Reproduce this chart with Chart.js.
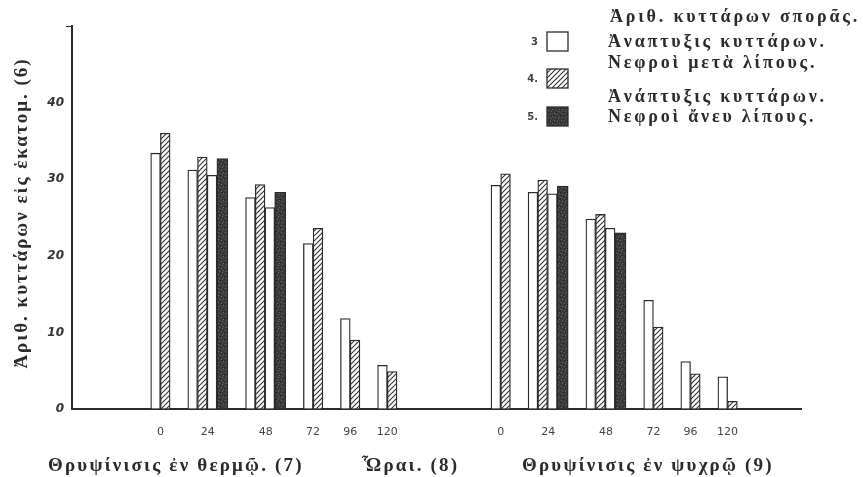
<!DOCTYPE html>
<html>
<head>
<meta charset="utf-8">
<script src="https://cdn.jsdelivr.net/npm/chart.js@4/dist/chart.umd.min.js"></script>
<style>
	body { margin: 0; background: #fff; }
	#wrap { width: 863px; height: 477px; }
</style>
</head>
<body>
<div id="wrap"><canvas id="cellChart" width="863" height="477"></canvas></div>
<script>
// ώρες (κατηγορίες)
const hours = ['0', '24', '48', '72', '96', '120'];

// Θρυψίνισις ἐν θερμῷ
const warmSeed = [33.4, 31.2, 27.6, 21.6, 11.8, 5.7];
const warmFat = [36.0, 32.9, 29.3, 23.6, 9.0, 4.9];
const warmSeed2 = [null, 30.5, 26.3, null, null, null];
const warmNoFat = [null, 32.7, 28.3, null, null, null];

// Θρυψίνισις ἐν ψυχρῷ
const coldSeed = [29.2, 28.3, 24.8, 14.2, 6.2, 4.2];
const coldFat = [30.7, 29.9, 25.4, 10.7, 4.6, 1.0];
const coldSeed2 = [null, 28.1, 23.6, null, null, null];
const coldNoFat = [null, 29.1, 23.0, null, null, null];

const yTicks = [0, 10, 20, 30, 40, 50];

const legendLines = [
	'Ἀριθ. κυττάρων σπορᾶς.',
	'Ἀναπτυξις κυττάρων.',
	'Νεφροὶ μετὰ λίπους.',
	'Ἀνάπτυξις κυττάρων.',
	'Νεφροὶ ἄνευ λίπους.'
];
const yTitle = 'Ἀριθ. κυττάρων εἰς ἑκατομ. (6)';
const bottomTitles = ['Θρυψίνισις ἐν θερμῷ. (7)', 'Ὧραι. (8)', 'Θρυψίνισις ἐν ψυχρῷ (9)'];

const INK = '#2b2b2b';

// μοτίβα γεμίσματος
const makeHatch = () => {
	const c = document.createElement('canvas');
	c.width = 5; c.height = 5;
	const g = c.getContext('2d');
	g.fillStyle = '#fff';
	g.fillRect(0, 0, 5, 5);
	g.strokeStyle = '#333';
	g.lineWidth = 1.1;
	g.beginPath();
	g.moveTo(-1, 6); g.lineTo(6, -1);
	g.moveTo(-1, 1); g.lineTo(1, -1);
	g.moveTo(4, 6); g.lineTo(6, 4);
	g.stroke();
	return g.createPattern(c, 'repeat');
};
const makeStipple = () => {
	const c = document.createElement('canvas');
	c.width = 7; c.height = 7;
	const g = c.getContext('2d');
	g.fillStyle = '#3a3a3a';
	g.fillRect(0, 0, 7, 7);
	g.fillStyle = '#6a6a6a';
	[[1, 1], [4, 2], [2, 5], [6, 4], [5, 6]].forEach(p => g.fillRect(p[0], p[1], 1, 1));
	g.fillStyle = '#222';
	[[3, 0], [0, 3], [5, 3]].forEach(p => g.fillRect(p[0], p[1], 1, 1));
	return g.createPattern(c, 'repeat');
};
const hatch = makeHatch();
const stipple = makeStipple();

// διάταξη ράβδων στον άξονα x (μονάδες = px του χώρου σχεδίασης)
const BAR = 9.7, DARK = 11, GAP = 17.7, LEFT = 78.7, MID = 94;
const widths = [BAR, BAR, BAR, DARK];
const points = [[], [], [], []];
const groupCenters = [];
const tickLabels = [];
let xPos = LEFT;
[[warmSeed, warmFat, warmSeed2, warmNoFat], [coldSeed, coldFat, coldSeed2, coldNoFat]].forEach((side, s) => {
	if (s > 0) xPos += MID - GAP;
	hours.forEach((h, i) => {
		const start = xPos;
		side.forEach((arr, k) => {
			if (arr[i] == null) return;
			points[k].push({ x: xPos + widths[k] / 2, y: arr[i] });
			xPos += widths[k];
		});
		groupCenters.push((start + xPos) / 2);
		tickLabels.push(h);
		xPos += GAP;
	});
});

const textPlugin = {
	id: 'texts',
	beforeDraw: (chart) => {
		const ctx = chart.ctx;
		ctx.save();
		ctx.fillStyle = '#fff';
		ctx.fillRect(0, 0, chart.width, chart.height);
		ctx.restore();
	},
	afterDraw: (chart) => {
		const ctx = chart.ctx;
		ctx.save();
		ctx.fillStyle = INK;
		ctx.textBaseline = 'middle';

		// τίτλος άξονα y
		ctx.save();
		ctx.translate(22, 213);
		ctx.rotate(-Math.PI / 2);
		ctx.textAlign = 'center';
		ctx.font = 'bold 19px "Liberation Serif"';
		ctx.letterSpacing = '2px';
		ctx.fillText(yTitle, 0, 0);
		ctx.restore();

		// κάτω τίτλοι
		ctx.font = 'bold 19px "Liberation Serif"';
		ctx.letterSpacing = '2.2px';
		ctx.textAlign = 'left';
		[48, 362, 522].forEach((x, i) => ctx.fillText(bottomTitles[i], x, 466));

		// υπόμνημα
		ctx.font = 'bold 18px "Liberation Serif"';
		ctx.letterSpacing = '2.8px';
		[[610, 17], [608, 42], [608, 63], [608, 97], [608, 117]].forEach((p, i) => ctx.fillText(legendLines[i], p[0], p[1]));

		const fills = ['#fff', hatch, stipple];
		const nums = ['3', '4.', '5.'];
		ctx.letterSpacing = '0px';
		ctx.font = 'bold 10px "DejaVu Sans"';
		ctx.strokeStyle = INK;
		ctx.lineWidth = 1.3;
		[32, 69, 107].forEach((y, i) => {
			ctx.fillStyle = fills[i];
			ctx.fillRect(547, y, 21, 19);
			ctx.strokeRect(547, y, 21, 19);
			ctx.fillStyle = '#444';
			ctx.textAlign = 'right';
			ctx.fillText(nums[i], 538, y + 10);
		});
		ctx.restore();
	}
};

const ds = (label, data, fill, thick) => ({
	label: label,
	data: data,
	backgroundColor: fill,
	borderColor: INK,
	borderWidth: 1.3,
	barThickness: thick,
	grouped: false
});

const chart = new Chart(document.getElementById('cellChart'), {
	type: 'bar',
	data: {
		datasets: [
			ds('Ἀριθ. κυττάρων σπορᾶς.', points[0], '#fff', BAR),
			ds('Νεφροὶ μετὰ λίπους.', points[1], hatch, BAR),
			ds('Ἀριθ. κυττάρων σπορᾶς. (2)', points[2], '#fff', BAR),
			ds('Νεφροὶ ἄνευ λίπους.', points[3], stipple, DARK)
		]
	},
	options: {
		responsive: false,
		animation: false,
		layout: { padding: { left: 0, right: 62, top: 26, bottom: 38 } },
		plugins: { legend: { display: false }, tooltip: { enabled: false } },
		scales: {
			x: {
				type: 'linear',
				offset: false,
				min: 0,
				max: 729,
				afterBuildTicks: (axis) => { axis.ticks = groupCenters.map(v => ({ value: v })); },
				afterFit: (axis) => { axis.height = 30; },
				grid: { display: false },
				border: { color: INK, width: 2 },
				ticks: {
					autoSkip: false,
					maxRotation: 0,
					padding: 9,
					color: '#444',
					font: { family: 'DejaVu Sans', size: 11 },
					callback: (v, i) => tickLabels[i]
				}
			},
			y: {
				min: 0,
				max: 50,
				afterBuildTicks: (axis) => { axis.ticks = yTicks.map(v => ({ value: v })); },
				afterFit: (axis) => { axis.width = 72; },
				grid: {
					display: true,
					drawOnChartArea: false,
					tickLength: 6,
					color: (c) => (c.tick && c.tick.value === 50) ? INK : 'rgba(0,0,0,0)'
				},
				border: { color: INK, width: 2 },
				ticks: {
					padding: 2,
					color: '#333',
					font: { family: 'DejaVu Sans', size: 12, style: 'italic', weight: 'bold' },
					callback: (v) => v === 50 ? '' : v
				}
			}
		}
	},
	plugins: [textPlugin]
});
</script>
</body>
</html>
